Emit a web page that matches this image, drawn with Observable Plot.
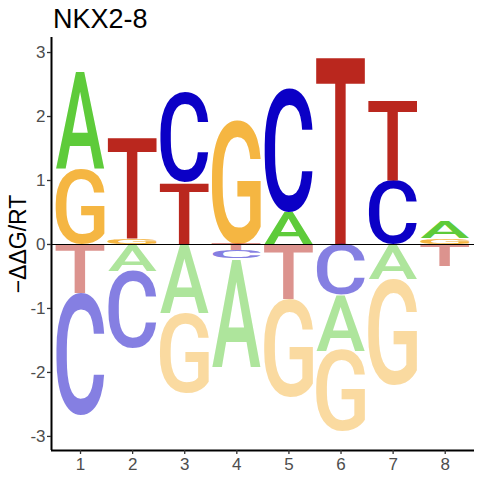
<!DOCTYPE html>
<html>
<head>
<meta charset="utf-8">
<script src="https://cdn.jsdelivr.net/npm/d3@7"></script>
<script src="https://cdn.jsdelivr.net/npm/@observablehq/plot@0.6"></script>
<style>
  html, body { margin: 0; padding: 0; background: #fff; }
</style>
</head>
<body>
<script>
// ---- data ----
const title = "NKX2-8";
const yLabel = "\u2212\u0394\u0394G/RT";
const positions = [1, 2, 3, 4, 5, 6, 7, 8];
const bases = ["A", "C", "G", "T"];
const ddgA = [1.52, -0.42, -1.08, -1.70, 0.50, -0.87, -0.55, 0.27];
const ddgC = [-1.90, -1.21, 1.39, -0.12, 1.93, -0.80, 1.00, 0.00];
const ddgG = [1.17, 0.08, -1.25, 1.93, -1.53, -1.26, -1.66, 0.09];
const ddgT = [-0.77, 1.58, 0.96, -0.10, -0.86, 2.94, 1.25, -0.35];
const yTicks = [-3, -2, -1, 0, 1, 2, 3];
const xTicks = [1, 2, 3, 4, 5, 6, 7, 8];
const baseColors = ["#5ECB3A", "#0B00C6", "#F5B642", "#BA271E"];

// ---- stacking (smallest magnitude closest to zero) ----
const series = [ddgA, ddgC, ddgG, ddgT];
const letters = [];
positions.forEach((p, j) => {
  const col = bases.map((b, k) => ({pos: p, base: b, v: series[k][j]}));
  let up = 0, down = 0;
  col.filter(d => d.v > 0).sort((a, b) => a.v - b.v).forEach(d => {
    letters.push({...d, lo: up, hi: up + d.v}); up += d.v;
  });
  col.filter(d => d.v < 0).sort((a, b) => b.v - a.v).forEach(d => {
    letters.push({...d, lo: down, hi: down + d.v}); down += d.v;
  });
});

// ---- glyph ink metrics ----
const FONT = "Roboto";
const WEIGHT = 500;
const ctx = document.createElement("canvas").getContext("2d");
ctx.font = `${WEIGHT} 100px ${FONT}`;
ctx.textAlign = "left";
ctx.textBaseline = "alphabetic";
const metrics = {};
for (const b of bases) {
  const m = ctx.measureText(b);
  let l = m.actualBoundingBoxLeft, r = m.actualBoundingBoxRight,
      a = m.actualBoundingBoxAscent, d = m.actualBoundingBoxDescent;
  if (!(r > 0)) { l = -5; r = 65; a = 71; d = 1; }
  metrics[b] = {l, r, a, d};
}

function glyphRender(index, scales, values) {
  const g = d3.create("svg:g").attr("text-anchor", "start");
  for (const i of index) {
    const b = letters[i].base;
    const m = metrics[b];
    const x1 = Math.min(values.x1[i], values.x2[i]);
    const x2 = Math.max(values.x1[i], values.x2[i]);
    const yt = Math.min(values.y1[i], values.y2[i]);
    const yb = Math.max(values.y1[i], values.y2[i]);
    const w = x2 - x1, h = yb - yt;
    if (h <= 0) continue;
    const sx = w / (m.l + m.r), sy = h / (m.a + m.d);
    g.append("text")
      .attr("font-family", FONT)
      .attr("font-weight", WEIGHT)
      .attr("font-size", 100)
      .attr("text-anchor", "start")
      .attr("fill", values.fill[i])
      .attr("fill-opacity", values.fillOpacity ? values.fillOpacity[i] : 1)
      .attr("transform", `translate(${x1},${yt}) scale(${sx},${sy}) translate(${m.l},${m.a})`)
      .text(b);
  }
  return g.node();
}

const FF = "Liberation Sans, Arial, sans-serif";
const xDom = [0.443, 8.562];
const yDom = [-3.22, 3.235];

const chart = Plot.plot({
  width: 480,
  height: 480,
  marginLeft: 51,
  marginRight: 6,
  marginTop: 37,
  marginBottom: 30,
  style: {fontFamily: FF, background: "white"},
  x: {domain: xDom},
  y: {domain: yDom},
  color: {domain: bases, range: baseColors},
  marks: [
    Plot.rect(letters, {
      x1: d => d.pos - 0.47,
      x2: d => d.pos + 0.47,
      y1: "lo",
      y2: "hi",
      fill: "base",
      fillOpacity: d => d.v < 0 ? 0.5 : 1,
      render: glyphRender
    }),
    Plot.ruleY([0], {stroke: "black", strokeWidth: 1.1}),
    Plot.ruleX([xDom[0]], {stroke: "black", strokeWidth: 2}),
    Plot.ruleY([yDom[0]], {stroke: "black", strokeWidth: 2}),
    Plot.axisY({ticks: yTicks, tickFormat: d => String(d), tickSize: 4, tickPadding: 2, stroke: "#333", fill: "#4D4D4D", fontSize: 17, fontFamily: FF, label: null, strokeWidth: 1.3}),
    Plot.axisX({ticks: xTicks, tickFormat: d => String(d), tickSize: 4, tickPadding: 3, stroke: "#333", fill: "#4D4D4D", fontSize: 17, fontFamily: FF, label: null, strokeWidth: 1.3}),
    Plot.text([title], {text: d => d, frameAnchor: "top-left", textAnchor: "start", lineAnchor: "bottom", dx: 1.5, dy: -10, fontSize: 27, fontFamily: FF, fill: "black"}),
    Plot.text([yLabel], {text: d => d, frameAnchor: "left", textAnchor: "middle", lineAnchor: "middle", dx: -33, rotate: -90, fontSize: 23, fontFamily: FF, fill: "black"})
  ]
});
document.body.appendChild(chart);
</script>
</body>
</html>
